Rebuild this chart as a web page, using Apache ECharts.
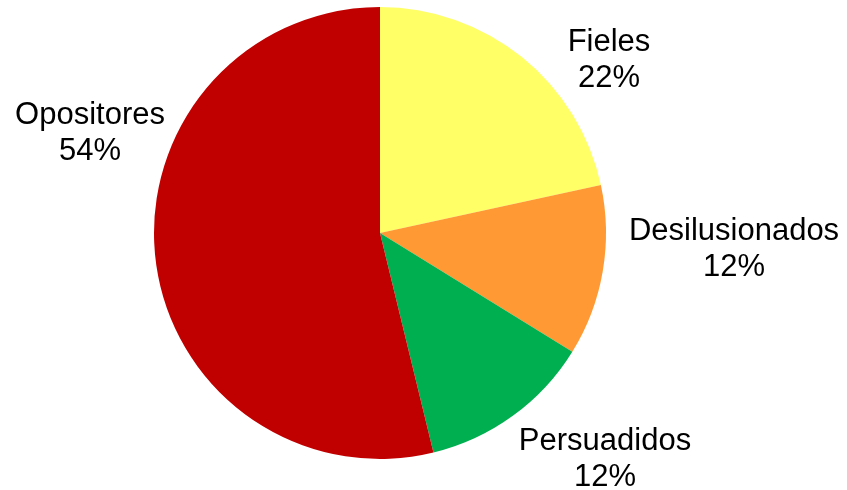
<!DOCTYPE html>
<html>
<head>
<meta charset="utf-8">
<script src="https://cdn.jsdelivr.net/npm/echarts@6/dist/echarts.min.js"></script>
<style>html,body{margin:0;padding:0;background:#fff}#c{width:847px;height:490px}</style>
</head>
<body>
<div id="c"></div>
<script>
const categories = ['Fieles', 'Desilusionados', 'Persuadidos', 'Opositores'];
const values = [21.6, 12.2, 12.4, 53.8];
const colors = ['#FFFF66', '#FF9933', '#00B050', '#C00000'];
const labelPos = [[609, 60], [734, 249], [605, 459], [90, 133]];

const chart = echarts.init(document.getElementById('c'), null, {renderer: 'canvas'});
chart.setOption({
  animation: false,
  series: [{
    type: 'pie',
    center: [380, 233],
    radius: [0, 226],
    startAngle: 90,
    clockwise: true,
    data: categories.map((n, i) => ({name: n, value: values[i], itemStyle: {color: colors[i]}})),
    itemStyle: {borderWidth: 0},
    emphasis: {disabled: true},
    label: {
      show: true,
      position: 'outside',
      overflow: 'none',
      formatter: p => p.name + '\n' + Math.round(p.percent) + '%',
      fontFamily: 'Liberation Sans, Arial, sans-serif',
      fontSize: 31,
      lineHeight: 36,
      color: '#000',
      align: 'center'
    },
    labelLine: {show: false},
    labelLayout: p => ({x: labelPos[p.dataIndex][0], y: labelPos[p.dataIndex][1], align: 'center', verticalAlign: 'middle'})
  }]
});
</script>
</body>
</html>
